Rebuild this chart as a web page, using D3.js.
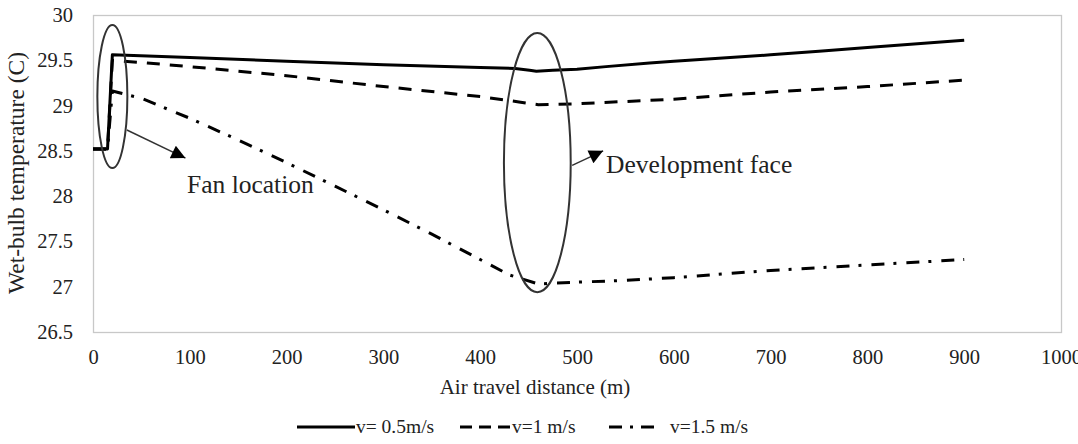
<!DOCTYPE html>
<html>
<head>
<meta charset="utf-8">
<script src="https://cdn.jsdelivr.net/npm/d3@7"></script>
<style>
  html, body { margin: 0; padding: 0; background: #fff; }
</style>
</head>
<body>
<svg id="chart" width="1078" height="444"></svg>
<script>
// ---- data ----
const xTicks = [0, 100, 200, 300, 400, 500, 600, 700, 800, 900, 1000];
const yTicks = [26.5, 27, 27.5, 28, 28.5, 29, 29.5, 30];

const seriesNames = ["v= 0.5m/s", "v=1 m/s", "v=1.5 m/s"];

const solidX = [0, 15, 20, 100, 200, 300, 400, 436, 451, 458, 475, 500, 530, 575, 600, 700, 750, 800, 900];
const solidY = [28.52, 28.52, 29.56, 29.53, 29.49, 29.45, 29.42, 29.41, 29.39, 29.38, 29.39, 29.40, 29.43, 29.47, 29.49, 29.56, 29.60, 29.64, 29.72];

const dashX = [0, 15, 20, 56, 100, 200, 300, 400, 440, 460, 500, 600, 700, 800, 900];
const dashY = [28.52, 28.52, 29.50, 29.47, 29.43, 29.33, 29.21, 29.10, 29.04, 29.01, 29.02, 29.07, 29.15, 29.21, 29.28];

const ddX = [0, 15, 20, 50, 100, 150, 200, 250, 300, 350, 400, 430, 460, 500, 550, 600, 700, 800, 900];
const ddY = [28.52, 28.52, 29.16, 29.08, 28.86, 28.62, 28.37, 28.11, 27.85, 27.58, 27.30, 27.13, 27.03, 27.05, 27.07, 27.10, 27.18, 27.24, 27.30];

const annotations = ["Fan location", "Development face"];

// ---- layout ----
const FONT = "Liberation Serif";
const svg = d3.select("#chart");
const m = { left: 93, top: 15, right: 1061, bottom: 332 };
const x = d3.scaleLinear().domain([0, 1000]).range([m.left, m.right]);
const y = d3.scaleLinear().domain([26.5, 30]).range([m.bottom, m.top]);

// plot border
svg.append("rect")
  .attr("x", m.left + 0.5).attr("y", m.top + 0.5)
  .attr("width", m.right - m.left).attr("height", m.bottom - m.top)
  .attr("fill", "none").attr("stroke", "#c8c8c8").attr("stroke-width", 1.3);

// axes (labels only)
const xAxis = d3.axisBottom(x).tickValues(xTicks).tickSize(0).tickPadding(17).tickFormat(d3.format("d"));
const gx = svg.append("g").attr("transform", `translate(0,${m.bottom})`).call(xAxis);
gx.select(".domain").remove();
gx.selectAll("text").attr("font-size", 20.5).attr("fill", "#222").style("font-family", FONT);

const yAxis = d3.axisLeft(y).tickValues(yTicks).tickSize(0).tickPadding(20).tickFormat(d => d);
const gy = svg.append("g").attr("transform", `translate(${m.left},0)`).call(yAxis);
gy.select(".domain").remove();
gy.selectAll("text").attr("font-size", 20.5).attr("fill", "#222").style("font-family", FONT);

// axis titles
svg.append("text").attr("x", 535).attr("y", 394)
  .attr("text-anchor", "middle").attr("font-size", 21).attr("fill", "#222")
  .style("font-family", FONT)
  .text("Air travel distance (m)");
svg.append("text").attr("transform", `translate(24,${173}) rotate(-90)`)
  .attr("text-anchor", "middle").attr("font-size", 23.5).attr("fill", "#222")
  .style("font-family", FONT)
  .text("Wet-bulb temperature (C)");

// series
const line = d3.line().x(d => x(d[0])).y(d => y(d[1]));
const series = [
  { xs: solidX, ys: solidY, dash: null },
  { xs: dashX, ys: dashY, dash: "13,10" },
  { xs: ddX, ys: ddY, dash: "13,9,3,10" }
];
series.forEach(s => {
  svg.append("path")
    .datum(s.xs.map((v, i) => [v, s.ys[i]]))
    .attr("d", line)
    .attr("fill", "none").attr("stroke", "#000").attr("stroke-width", 3)
    .attr("stroke-dasharray", s.dash)
    .attr("stroke-linejoin", "round");
});

// annotations: ellipses
const ell = [
  { cx: 20, cy: 29.1, rx: 15.5, ry: 0.79 },
  { cx: 459, cy: 28.37, rx: 34.5, ry: 1.43 }
];
ell.forEach(e => {
  svg.append("ellipse")
    .attr("cx", x(e.cx)).attr("cy", y(e.cy))
    .attr("rx", x(e.rx) - x(0)).attr("ry", y(0) - y(e.ry))
    .attr("fill", "none").attr("stroke", "#333").attr("stroke-width", 2);
});

// arrow marker
svg.append("defs").append("marker")
  .attr("id", "arrow").attr("viewBox", "0 0 10 10")
  .attr("refX", 10).attr("refY", 5)
  .attr("markerWidth", 16).attr("markerHeight", 14)
  .attr("markerUnits", "userSpaceOnUse")
  .attr("orient", "auto")
  .append("path").attr("d", "M0,0 L10,5 L0,10 Z").attr("fill", "#000");

const arrows = [
  { x1: 35, y1: 28.73, x2: 95.5, y2: 28.42 },
  { x1: 495, y1: 28.34, x2: 527, y2: 28.5 }
];
arrows.forEach(a => {
  svg.append("line")
    .attr("x1", x(a.x1)).attr("y1", y(a.y1))
    .attr("x2", x(a.x2)).attr("y2", y(a.y2))
    .attr("stroke", "#333").attr("stroke-width", 1.5)
    .attr("marker-end", "url(#arrow)");
});

svg.append("text").attr("x", 187).attr("y", 193)
  .attr("font-size", 25.5).attr("fill", "#222").style("font-family", FONT).text(annotations[0]);
svg.append("text").attr("x", 606).attr("y", 173)
  .attr("font-size", 25.5).attr("fill", "#222").style("font-family", FONT).text(annotations[1]);

// legend
const legendItems = [
  { x1: 297, x2: 355, tx: 356, dash: null },
  { x1: 460, x2: 511, tx: 512, dash: "12,7" },
  { x1: 609, x2: 654, tx: 670, dash: "13,8,3,8" }
];
legendItems.forEach((l, i) => {
  svg.append("line").attr("x1", l.x1).attr("x2", l.x2).attr("y1", 427).attr("y2", 427)
    .attr("stroke", "#000").attr("stroke-width", 3).attr("stroke-dasharray", l.dash);
  svg.append("text").attr("x", l.tx).attr("y", 433).attr("font-size", 19.5).attr("fill", "#222")
    .style("font-family", FONT)
    .text(seriesNames[i]);
});
</script>
</body>
</html>
